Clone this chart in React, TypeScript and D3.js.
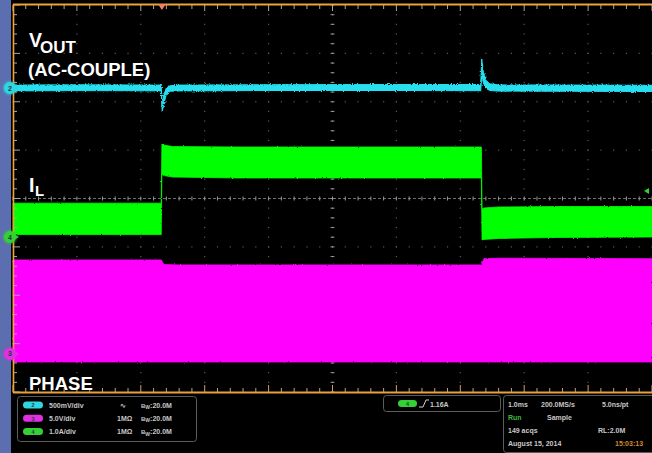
import React from "react";
import * as d3 from "d3";

const W = 652;
const H = 453;

// Horizontal: 10 divisions of 1.0 ms; vertical: 8 divisions
const hDivs = 10;
const vDivs = 8;

// Channel 2: VOUT (AC coupled), mV, 500 mV/div
const vTime = [0, 1.0, 2.0, 2.32, 2.335, 2.36, 2.4, 2.46, 2.6, 4, 6, 7.32, 7.335, 7.36, 7.4, 7.46, 7.6, 9, 10];
const vHi = [30, 33, 31, 30, -190, -70, 0, 24, 30, 34, 36, 36, 300, 175, 80, 44, 32, 30, 28];
const vLo = [-30, -27, -29, -30, -245, -165, -65, -34, -30, -26, -26, -28, 140, 55, -2, -26, -32, -34, -36];

// Channel 4: IL, A, 1.0 A/div
const gTime = [0, 2.32, 2.33, 2.36, 2.5, 3.5, 5, 7.33, 7.34, 7.37, 7.6, 8.5, 10];
const gHi = [0.7, 0.7, 1.92, 1.9, 1.87, 1.86, 1.86, 1.86, 0.58, 0.6, 0.62, 0.63, 0.63];
const gLo = [0.05, 0.05, 1.3, 1.27, 1.24, 1.22, 1.22, 1.22, -0.06, -0.05, -0.03, -0.01, 0.0];

// Channel 3: PHASE, V, 5.0 V/div
const mTime = [0, 2.32, 2.36, 2.6, 7.33, 7.37, 7.6, 10];
const mHi = [9.72, 9.72, 9.25, 9.2, 9.2, 9.85, 9.9, 9.85];
const mLo = [-0.83, -0.83, -0.83, -0.83, -0.83, -0.83, -0.83, -0.83];

// channel settings
const ch2PerDiv = 500;
const ch4PerDiv = 1.0;
const ch3PerDiv = 5.0;
const ch2Offset = 2.284; // divisions above centre
const ch4Offset = -0.796;
const ch3Offset = -3.214;
const triggerTime = 2.33;
const triggerLevelShown = 0.95;

const leftRows = [
  { color: "#2fd6e0", num: "2", scale: "500mV/div", coupling: "∿" },
  { color: "#e030e0", num: "3", scale: "5.0V/div", coupling: "1MΩ" },
  { color: "#35d035", num: "4", scale: "1.0A/div", coupling: "1MΩ" },
];

const FONT = "'Liberation Sans', Arial, sans-serif";

export default function App() {
  const x = d3.scaleLinear().domain([0, hDivs]).range([13, 652]);
  const yDiv = d3.scaleLinear().domain([vDivs / 2, -vDivs / 2]).range([5, 392]);
  const ch = (off: number, per: number) => (v: number) => yDiv(off + v / per);
  const y2 = ch(ch2Offset, ch2PerDiv);
  const y4 = ch(ch4Offset, ch4PerDiv);
  const y3 = ch(ch3Offset, ch3PerDiv);

  const band = (t: number[], hi: number[], lo: number[], ys: (v: number) => number) =>
    d3
      .area<number>()
      .x((d) => x(t[d]))
      .y0((d) => ys(lo[d]))
      .y1((d) => ys(hi[d]))(d3.range(t.length)) || "";

  const minor = d3.range(0, hDivs * 5 + 1).map((k) => k / 5);
  const minorV = d3.range(-vDivs * 5 / 2, vDivs * 5 / 2 + 1).map((k) => k / 5);

  const dots: JSX.Element[] = [];
  d3.range(1, hDivs).forEach((i) => {
    if (i === 5) return;
    minorV.forEach((v, k) =>
      dots.push(<rect key={`dv${i}-${k}`} x={x(i) - 0.6} y={yDiv(v) - 0.6} width={1.2} height={1.2} fill="#5a5a5a" />)
    );
  });
  d3.range(-3, 4).forEach((j) => {
    if (j === 0) return;
    minor.forEach((t, k) =>
      dots.push(<rect key={`dh${j}-${k}`} x={x(t) - 0.6} y={yDiv(j) - 0.6} width={1.2} height={1.2} fill="#5a5a5a" />)
    );
  });

  return (
    <div style={{ position: "fixed", left: 0, top: 0 }}>
      <svg width={W} height={H} style={{ display: "block", background: "#000" }} fontFamily={FONT}>
        <defs>
          <filter id="fuzz" x="-5%" y="-20%" width="110%" height="140%">
            <feTurbulence type="fractalNoise" baseFrequency="0.9" numOctaves="2" seed="3" result="n" />
            <feDisplacementMap in="SourceGraphic" in2="n" scale="3" xChannelSelector="R" yChannelSelector="G" />
          </filter>
          <filter id="fuzz2" x="-5%" y="-20%" width="110%" height="140%">
            <feTurbulence type="fractalNoise" baseFrequency="0.7" numOctaves="2" seed="7" result="n" />
            <feDisplacementMap in="SourceGraphic" in2="n" scale="2" xChannelSelector="R" yChannelSelector="G" />
          </filter>
          <filter id="glow" x="-50%" y="-50%" width="200%" height="200%">
            <feGaussianBlur stdDeviation="0.8" />
          </filter>
        </defs>
        <rect x={0} y={0} width={W} height={H} fill="#000" />
        {/* left blue strip */}
        <rect x={0} y={0} width={11} height={H} fill="#5a6eb0" />

        {/* graticule */}
        <g>{dots}</g>
        {/* centre cross */}
        <line x1={x(0)} x2={x(hDivs)} y1={yDiv(0)} y2={yDiv(0)} stroke="#8a8a8a" strokeWidth={0.8} strokeDasharray="3 2" />
        {minor.map((t, k) => (
          <line key={`ct${k}`} x1={x(t)} x2={x(t)} y1={yDiv(0) - 2} y2={yDiv(0) + 2} stroke="#9a9a9a" strokeWidth={1} />
        ))}
        {minorV.map((v, k) => (
          <g key={`cv${k}`}>
            <line x1={x(5) - 2} x2={x(5) + 2} y1={yDiv(v)} y2={yDiv(v)} stroke="#8a8a8a" strokeWidth={1} />
            <rect x={x(5) - 0.6} y={yDiv(v) - 0.6} width={1.2} height={1.2} fill="#999" />
          </g>
        ))}

        {/* traces */}
        <path d={band(mTime, mHi, mLo, y3)} fill="#ff00ff" stroke="#ff00ff" strokeWidth={0.8} filter="url(#fuzz2)" />
        <path d={band(gTime, gHi, gLo, y4)} fill="#00ff00" stroke="#00ff00" strokeWidth={0.8} filter="url(#fuzz2)" />
        <path d={band(vTime, vHi, vLo, y2)} fill="#28e0f0" stroke="#28e0f0" strokeWidth={1} filter="url(#fuzz)" />

        {/* border ticks */}
        {minor.map((t, k) => (
          <g key={`bt${k}`}>
            <line x1={x(t)} x2={x(t)} y1={5} y2={k % 5 === 0 ? 11 : 9} stroke="#a8a8a8" strokeWidth={1} />
            <line x1={x(t)} x2={x(t)} y1={392} y2={k % 5 === 0 ? 385 : 388} stroke="#c8a070" strokeWidth={1} />
          </g>
        ))}
        {minorV.map((v, k) => (
          <line key={`lt${k}`} x1={13} x2={k % 5 === 0 ? 20 : 17} y1={yDiv(v)} y2={yDiv(v)} stroke="#a8a8a8" strokeWidth={1} />
        ))}
        {/* orange frame */}
        <line x1={13} x2={W} y1={4.5} y2={4.5} stroke="#f0a232" strokeWidth={2} />
        <line x1={13} x2={W} y1={392.5} y2={392.5} stroke="#e8a040" strokeWidth={2} />
        <line x1={13.5} x2={13.5} y1={4} y2={393} stroke="#f0a232" strokeWidth={1.6} />

        {/* trigger position marker */}
        <path
          d={`M${x(triggerTime) - 4},4 L${x(triggerTime) + 4},4 L${x(triggerTime)},10 Z`}
          fill="#f08068"
        />
        {/* trigger level marker */}
        <path
          d={`M${W - 3},${y4(triggerLevelShown) - 3} L${W - 8},${y4(triggerLevelShown)} L${W - 3},${y4(triggerLevelShown) + 3} Z`}
          fill="#35d035"
        />

        {/* channel markers */}
        {[
          { c: "#2fd6e0", n: "2", y: y2(0) },
          { c: "#35d035", n: "4", y: y4(0) },
          { c: "#e030e0", n: "3", y: y3(0) },
        ].map((m) => (
          <g key={m.n}>
            <path d={`M${13},${m.y - 3.5} L${19},${m.y} L${13},${m.y + 3.5} Z`} fill={m.c} />
            <circle cx={10} cy={m.y} r={7} fill={m.c} opacity={0.6} filter="url(#glow)" />
            <circle cx={10} cy={m.y} r={6} fill={m.c} />
            <text x={10} y={m.y + 2.5} fontSize={7} textAnchor="middle" fill="#1a3a3a" fontWeight="bold">
              {m.n}
            </text>
          </g>
        ))}

        {/* annotations */}
        <g fill="#ffffff" fontWeight="bold">
          <text x={29} y={47} fontSize={19.5}>V</text>
          <text x={40} y={53} fontSize={17}>OUT</text>
          <text x={28} y={76} fontSize={18.5}>(AC-COUPLE)</text>
          <text x={29} y={192} fontSize={19.5}>I</text>
          <text x={35} y={196} fontSize={15}>L</text>
          <text x={29} y={390} fontSize={18.5}>PHASE</text>
        </g>

        {/* bottom panel: channel box */}
        <rect x={17.5} y={396.5} width={179} height={45} rx={3} fill="#000" stroke="#5c5c5c" strokeWidth={1} />
        {leftRows.map((r, i) => {
          const yy = 405 + i * 13.3;
          return (
            <g key={r.num} fontSize={7} fontWeight="bold" fill="#c8c8c8">
              <rect x={23} y={yy - 3.5} width={20} height={7} rx={3.5} fill={r.color} />
              <text x={33} y={yy + 2.3} fontSize={5.5} textAnchor="middle" fill="#1f3f3f">
                {r.num}
              </text>
              <text x={49} y={yy + 2.5}>{r.scale}</text>
              <text x={r.coupling === "∿" ? 120 : 117} y={yy + 2.5}>{r.coupling}</text>
              <text x={141} y={yy + 2.5}>
                <tspan fontSize={6}>B</tspan>
                <tspan fontSize={5} dy={1.5}>W</tspan>
                <tspan dy={-1.5}>:20.0M</tspan>
              </text>
            </g>
          );
        })}

        {/* trigger box */}
        <rect x={383.5} y={395.5} width={117} height={16} rx={3} fill="#000" stroke="#5c5c5c" strokeWidth={1} />
        <rect x={398} y={400} width={19} height={7} rx={3.5} fill="#35d035" />
        <text x={407.5} y={405.5} fontSize={5.5} fontWeight="bold" textAnchor="middle" fill="#1f3f1f">4</text>
        <path d="M419,407 L423,407 L426,400 L429,400" stroke="#d0d0d0" strokeWidth={1} fill="none" />
        <text x={430} y={406.5} fontSize={7} fontWeight="bold" fill="#c8c8c8">1.16A</text>

        {/* acquisition box */}
        <rect x={503.5} y={395.5} width={160} height={57} rx={3} fill="#000" stroke="#5c5c5c" strokeWidth={1} />
        <g fontSize={7} fontWeight="bold" fill="#c8c8c8">
          <text x={508} y={407}>1.0ms</text>
          <text x={541} y={407}>200.0MS/s</text>
          <text x={602} y={407}>5.0ns/pt</text>
          <text x={508} y={420} fill="#3fb83f">Run</text>
          <text x={547} y={420}>Sample</text>
          <text x={508} y={433}>149 acqs</text>
          <text x={598} y={433}>RL:2.0M</text>
          <text x={508} y={446}>August 15, 2014</text>
          <text x={615} y={446} fill="#d08a30">15:03:13</text>
        </g>
      </svg>
    </div>
  );
}
